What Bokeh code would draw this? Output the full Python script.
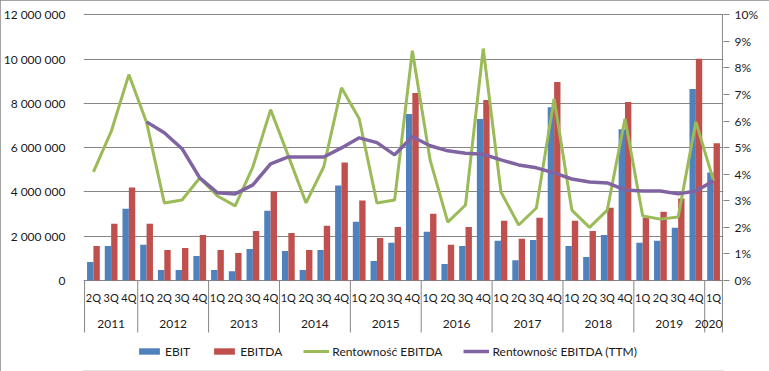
from bokeh.plotting import figure
from bokeh.models import (FactorRange, Range1d, LinearAxis, FixedTicker, Legend,
                          LegendItem, ColumnDataSource)
from bokeh.transform import dodge
from bokeh.core.properties import value
from bokeh.embed import file_html
from bokeh.resources import INLINE

# ---------------- data ----------------
year_labels = ["2011", "2012", "2013", "2014", "2015", "2016", "2017", "2018", "2019", "2020"]
quarters_per_year = [["2Q", "3Q", "4Q"]] + [["1Q", "2Q", "3Q", "4Q"]] * 8 + [["1Q"]]

ebit = [830000, 1560000, 3240000, 1610000, 470000, 470000, 1110000, 470000, 420000, 1420000,
        3150000, 1330000, 470000, 1380000, 4290000, 2650000, 880000, 1700000, 7520000, 2200000,
        740000, 1560000, 7290000, 1790000, 920000, 1830000, 7830000, 1560000, 1060000, 2060000,
        6830000, 1700000, 1790000, 2380000, 8650000, 4880000]
ebitda = [1560000, 2560000, 4200000, 2560000, 1380000, 1470000, 2060000, 1380000, 1240000, 2240000,
          4020000, 2150000, 1380000, 2470000, 5330000, 3610000, 1920000, 2420000, 8470000, 3020000,
          1610000, 2420000, 8150000, 2700000, 1880000, 2830000, 8970000, 2700000, 2240000, 3290000,
          8060000, 2830000, 3110000, 3700000, 10020000, 6200000]
# Rentowność EBITDA, %
margin = [4.09, 5.60, 7.75, 5.95, 2.92, 3.03, 3.86, 3.18, 2.81, 4.28,
          6.43, 4.69, 2.92, 4.28, 7.25, 6.09, 2.92, 3.03, 8.65, 4.54,
          2.20, 2.84, 8.73, 3.33, 2.09, 2.73, 6.84, 2.65, 2.00, 2.65,
          6.09, 2.43, 2.31, 2.39, 5.97, 3.75]
# Rentowność EBITDA (TTM), %, from 1Q 2012
ttm_margin = [5.97, 5.56, 4.96, 3.86, 3.30, 3.26, 3.60, 4.39, 4.65, 4.65,
              4.65, 4.99, 5.37, 5.19, 4.73, 5.41, 5.07, 4.88, 4.79, 4.75,
              4.54, 4.35, 4.24, 4.05, 3.82, 3.71, 3.67, 3.41, 3.37, 3.37,
              3.26, 3.37, 3.75]
left_ticks = [0, 2000000, 4000000, 6000000, 8000000, 10000000, 12000000]
left_tick_labels = ["0", "2 000 000", "4 000 000", "6 000 000", "8 000 000", "10 000 000", "12 000 000"]
right_ticks = [0, 1, 2, 3, 4, 5, 6, 7, 8, 9, 10]
right_tick_labels = ["0%", "1%", "2%", "3%", "4%", "5%", "6%", "7%", "8%", "9%", "10%"]
series_names = ["EBIT", "EBITDA", "Rentowność EBITDA", "Rentowność EBITDA (TTM)"]

# ---------------- style / layout ----------------
FONT = "Lato"
FS = "12px"
FS_Q = "11px"
TXT = "#1a1a1a"
GRID = "#868686"
C_EBIT, C_EBITDA, C_MARGIN, C_TTM = "#4F81BD", "#C0504D", "#9BBB59", "#8064A2"

W, H = 769, 371
frame_left, frame_right = 82, 723
frame_top, frame_bottom = 13, 370          # px (frame also holds category labels and legend)
zero_px, top_tick_px = 280, 14.3           # px of 0 and of the top tick
sep_bottom_px = 332                        # bottom of the year separators
px_per_unit = (zero_px - top_tick_px) / left_ticks[-1]
y_end = left_ticks[-1] + (top_tick_px - frame_top) / px_per_unit
y_start = -(frame_bottom - zero_px) / px_per_unit
sep_bottom = -(sep_bottom_px - zero_px) / px_per_unit
pct_scale = right_ticks[-1] / left_ticks[-1]
quarter_label_dy, year_label_dy = 17, 43
last_year_nudge = -5

# ---------------- categories ----------------
years, quarters = [], []
for y, qs in zip(year_labels, quarters_per_year):
    for q in qs:
        years.append(y)
        quarters.append(q)
periods = list(zip(years, quarters))

x_range = FactorRange(factors=periods, factor_padding=0, group_padding=0,
                      subgroup_padding=0, range_padding=0.06, range_padding_units="absolute")

p = figure(width=W, height=H, x_range=x_range, y_range=Range1d(y_start, y_end),
           output_backend="svg", toolbar_location=None, x_axis_location=None,
           min_border_left=frame_left, min_border_right=W - frame_right,
           min_border_top=frame_top, min_border_bottom=H - frame_bottom,
           outline_line_color=None, background_fill_color="white",
           border_fill_color="white",
           styles={"outline": "1px solid " + GRID, "outline-offset": "-1px"})
p.extra_y_ranges = {"pct": Range1d(y_start * pct_scale, y_end * pct_scale)}

src = ColumnDataSource(dict(x=periods, ebit=ebit, ebitda=ebitda, margin=margin, q=quarters))
ttm_src = ColumnDataSource(dict(x=periods[len(periods) - len(ttm_margin):], ttm=ttm_margin))

# grid
p.xgrid.visible = False
p.ygrid.ticker = FixedTicker(ticks=left_ticks)
p.ygrid.grid_line_color = GRID
p.ygrid.grid_line_width = 1

# left axis
ya = p.yaxis[0]
ya.ticker = FixedTicker(ticks=left_ticks)
ya.major_label_overrides = {t: l for t, l in zip(left_ticks, left_tick_labels)}
ya.axis_line_color = None
ya.major_tick_line_color = None
ya.minor_tick_line_color = None
ya.major_label_standoff = 12
ya.major_label_text_font = FONT
ya.major_label_text_font_size = FS
ya.major_label_text_color = TXT

# right axis (its line is drawn with the separators, so it stops at the labels)
ra = LinearAxis(y_range_name="pct", ticker=FixedTicker(ticks=right_ticks))
ra.major_label_overrides = {t: l for t, l in zip(right_ticks, right_tick_labels)}
ra.axis_line_color = None
ra.major_tick_line_color = GRID
ra.major_tick_in = 0
ra.major_tick_out = 6
ra.minor_tick_line_color = None
ra.major_label_standoff = 5
ra.major_label_text_font = FONT
ra.major_label_text_font_size = FS
ra.major_label_text_color = TXT
p.add_layout(ra, "right")

# bars
r_ebit = p.vbar(x=dodge("x", -0.18, range=p.x_range), top="ebit", width=0.36, source=src,
                fill_color=C_EBIT, line_color=None)
r_ebitda = p.vbar(x=dodge("x", 0.18, range=p.x_range), top="ebitda", width=0.36, source=src,
                  fill_color=C_EBITDA, line_color=None)
# lines
r_margin = p.line(x="x", y="margin", source=src, y_range_name="pct", line_color=C_MARGIN,
                  line_width=3)
r_ttm = p.line(x="x", y="ttm", source=ttm_src, y_range_name="pct", line_color=C_TTM,
               line_width=3.5)

# category axis (quarters / years with separators); last one doubles as right axis line
bounds = [(y, qs[0], -0.5) for y, qs in zip(year_labels, quarters_per_year)]
bounds.append((year_labels[-1], quarters_per_year[-1][-1], 0.5))
sep_top = [0] * (len(bounds) - 1) + [left_ticks[-1]]
p.segment(x0=bounds, y0=sep_top, x1=bounds, y1=[sep_bottom] * len(bounds),
          line_color=GRID, line_width=1)
p.text(x="x", y=0, text="q", source=src, y_offset=quarter_label_dy, text_align="center",
       text_baseline="middle", text_font=value(FONT), text_font_size=value(FS_Q),
       text_color=TXT)
year_src = ColumnDataSource(dict(x=year_labels, y=[0] * len(year_labels), t=year_labels,
                                 dx=[0] * (len(year_labels) - 1) + [last_year_nudge]))
p.text(x="x", y="y", text="t", source=year_src, x_offset="dx", y_offset=year_label_dy,
       text_align="center", text_baseline="middle", text_font=value(FONT),
       text_font_size=value(FS), text_color=TXT)

# legend (inside the tall frame, under the labels)
legend = Legend(items=[LegendItem(label=series_names[0], renderers=[r_ebit]),
                       LegendItem(label=series_names[1], renderers=[r_ebitda]),
                       LegendItem(label=series_names[2], renderers=[r_margin]),
                       LegendItem(label=series_names[3], renderers=[r_ttm])],
                orientation="horizontal", location=(53, 9), margin=0, padding=0,
                spacing=21, glyph_width=26, glyph_height=8, label_standoff=3,
                label_height=20, label_text_font=FONT, label_text_font_size=FS,
                label_text_color=TXT, border_line_color=None, background_fill_alpha=0)
p.add_layout(legend, "center")

open("out.html", "w").write(file_html(p, INLINE))
